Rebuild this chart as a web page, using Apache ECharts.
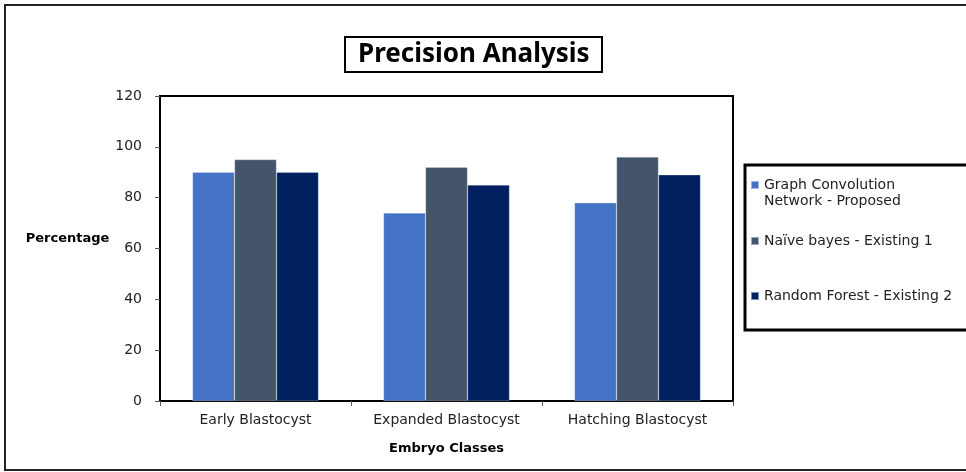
<!DOCTYPE html>
<html>
<head>
<meta charset="utf-8">
<script src="https://cdn.jsdelivr.net/npm/echarts@6/dist/echarts.min.js"></script>
<style>
  html, body { margin: 0; padding: 0; background: #fff; }
  #chart { width: 966px; height: 472px; }
</style>
</head>
<body>
<div id="chart"></div>
<script>
const categories = ['Early Blastocyst', 'Expanded Blastocyst', 'Hatching Blastocyst'];
const seriesNames = ['Graph Convolution Network - Proposed', 'Naïve bayes - Existing 1', 'Random Forest - Existing 2'];
const gcnValues = [90, 74, 78];
const naiveValues = [95, 92, 96];
const rfValues = [90, 85, 89];
const colors = ['#4472C4', '#44546A', '#002060'];

const chart = echarts.init(document.getElementById('chart'));

// each legend entry placed on its own, like the original boxed legend
// first one wraps on two lines; the empty leading line keeps the icon next to line one
const legendTops = [161, 233, 288];
const labelFor = name => name === seriesNames[0] ? '\nGraph Convolution\nNetwork - Proposed' : name;

chart.setOption({
  animation: false,
  textStyle: { fontFamily: 'DejaVu Sans' },
  title: {
    text: 'Precision Analysis',
    left: 345,
    top: 37,
    padding: [4, 13, 3, 13],
    borderColor: '#000',
    borderWidth: 2,
    textStyle: { fontFamily: 'Noto Sans', fontWeight: 'bold', fontSize: 26, lineHeight: 28, color: '#000' }
  },
  legend: seriesNames.map((n, i) => ({
    data: [n],
    left: 750,
    top: legendTops[i],
    orient: 'vertical',
    icon: 'rect',
    itemWidth: 8,
    itemHeight: 8,
    itemGap: 0,
    padding: 0,
    formatter: labelFor,
    textStyle: { fontFamily: 'DejaVu Sans', fontSize: 14, color: '#222', lineHeight: 16 }
  })),
  graphic: [
    { type: 'rect', shape: { x: 5, y: 5, width: 1000, height: 465 }, style: { fill: 'none', stroke: '#222', lineWidth: 2 } },
    { type: 'rect', shape: { x: 745, y: 165, width: 260, height: 165 }, style: { fill: 'none', stroke: '#000', lineWidth: 3 } }
  ],
  grid: {
    left: 160, right: 233, top: 96, bottom: 71,
    show: true, borderColor: '#000', borderWidth: 2
  },
  xAxis: {
    type: 'category',
    data: categories,
    name: 'Embryo Classes',
    nameLocation: 'middle',
    nameGap: 41,
    nameTextStyle: { fontFamily: 'DejaVu Sans', fontWeight: 'bold', fontSize: 13, color: '#000' },
    axisLine: { lineStyle: { color: '#000', width: 2 } },
    axisTick: { show: true, length: 5, lineStyle: { color: '#555' } },
    axisLabel: { fontFamily: 'DejaVu Sans', fontSize: 14, color: '#222', margin: 12 }
  },
  yAxis: {
    type: 'value',
    min: 0, max: 120, interval: 20,
    name: 'Percentage',
    nameLocation: 'middle',
    nameRotate: 0,
    nameGap: 48,
    nameTextStyle: { fontFamily: 'DejaVu Sans', fontWeight: 'bold', fontSize: 13, lineHeight: 20, color: '#000', align: 'right', verticalAlign: 'bottom' },
    axisLine: { show: true, lineStyle: { color: '#000', width: 2 } },
    axisTick: { show: true, length: 5, lineStyle: { color: '#555' } },
    splitLine: { show: false },
    axisLabel: { fontFamily: 'DejaVu Sans', fontSize: 14, color: '#222', margin: 18 }
  },
  series: [gcnValues, naiveValues, rfValues].map((vals, i) => ({
    name: seriesNames[i],
    type: 'bar',
    data: vals,
    barGap: '0%',
    barCategoryGap: '34%',
    itemStyle: { color: colors[i], borderColor: 'rgba(255,255,255,0.5)', borderWidth: 0.5 }
  }))
});
</script>
</body>
</html>
